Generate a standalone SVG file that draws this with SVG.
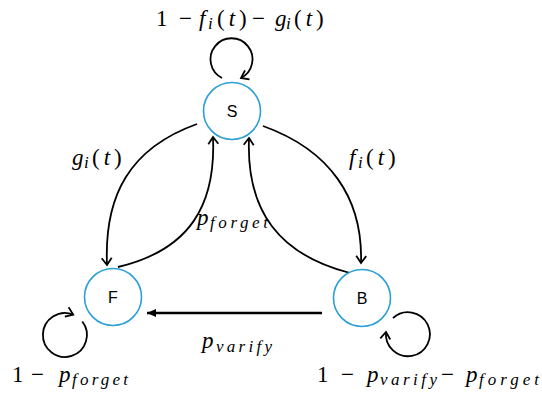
<svg xmlns="http://www.w3.org/2000/svg" width="542" height="395" viewBox="0 0 542 395">
<style>
.node circle{fill:#fff;stroke:#2a9fd6;stroke-width:1.6}
.node text{font-family:"Liberation Sans",Arial,sans-serif;font-size:16px;text-anchor:middle;fill:#000}
.edge{fill:none;stroke:#000;stroke-width:1.8}
.thick{fill:none;stroke:#000;stroke-width:2.6}
.m{font-family:"Liberation Serif","Times New Roman",serif;font-size:23px;fill:#000}
.mi{font-family:"Liberation Serif","Times New Roman",serif;font-size:23px;font-style:italic;fill:#000}
.it{font-style:italic}
.par{letter-spacing:4px}
.sub{font-family:"Liberation Serif","Times New Roman",serif;font-size:17px;font-style:italic;fill:#000}
</style>
<defs>
<marker id="open" markerUnits="userSpaceOnUse" markerWidth="14" markerHeight="14" viewBox="0 0 14 14" refX="11" refY="7" orient="auto">
<path d="M4,2 L11,7 L4,12" fill="none" stroke="#000" stroke-width="1.8"/>
</marker>
<marker id="solid" markerUnits="userSpaceOnUse" markerWidth="14" markerHeight="14" viewBox="0 0 14 14" refX="12" refY="7" orient="auto">
<path d="M3,3 L12,7 L3,11 Z" fill="#000"/>
</marker>
</defs>
<g id="connectors">
<path class="edge" d="M222,78 A21,21 0 1 1 241,78" marker-end="url(#open)"/>
<path class="edge" d="M82.3,321.5 A22,22 0 1 1 73.2,314.6" marker-end="url(#open)"/>
<path class="edge" d="M393,318 A22,22 0 1 1 386,332" marker-end="url(#open)"/>
<path class="edge" d="M197,124 C130,148 104,195 107,265" marker-end="url(#open)"/>
<path class="edge" d="M118,267 C190,250 216,205 213,137" marker-end="url(#open)"/>
<path class="edge" d="M263,126 C330,150 363,198 361,263" marker-end="url(#open)"/>
<path class="edge" d="M350,273 C280,255 246,212 249,138" marker-end="url(#open)"/>
<path class="thick" d="M322,313 L147,313" marker-end="url(#solid)"/>
</g>
<g id="node-S" class="node"><circle cx="232" cy="111" r="28.5"/><text x="232" y="117">S</text></g>
<g id="node-F" class="node"><circle cx="113" cy="297" r="28.5"/><text x="113" y="303">F</text></g>
<g id="node-B" class="node"><circle cx="362" cy="298" r="28.5"/><text x="362" y="304">B</text></g>
<g id="labels">
<g id="label-top">
<text class="m" x="156" y="26">1</text>
<text class="m" x="179" y="26">−</text>
<text class="mi" x="199" y="26">f</text>
<text class="sub" x="208" y="29">i</text>
<text class="m par" x="217" y="26">(<tspan class="it">t</tspan>)</text>
<text class="m" x="252" y="26">−</text>
<text class="mi" x="275" y="26">g</text>
<text class="sub" x="286" y="29">i</text>
<text class="m par" x="294" y="26">(<tspan class="it">t</tspan>)</text>
</g>
<g id="label-g">
<text class="mi" x="72" y="165">g</text>
<text class="sub" x="84" y="168">i</text>
<text class="m par" x="92" y="165">(<tspan class="it">t</tspan>)</text>
</g>
<g id="label-f">
<text class="mi" x="349" y="165">f</text>
<text class="sub" x="358" y="168">i</text>
<text class="m par" x="366" y="165">(<tspan class="it">t</tspan>)</text>
</g>
<g id="label-pforget">
<text class="mi" x="197" y="225">p</text>
<text class="sub" x="210" y="228" textLength="58" lengthAdjust="spacing">forget</text>
</g>
<g id="label-pvarify">
<text class="mi" x="202" y="348">p</text>
<text class="sub" x="216" y="352" textLength="56" lengthAdjust="spacing">varify</text>
</g>
<g id="label-F-self">
<text class="m" x="12" y="382">1</text>
<text class="m" x="31" y="382">−</text>
<text class="mi" x="59" y="382">p</text>
<text class="sub" x="72" y="385" textLength="56" lengthAdjust="spacing">forget</text>
</g>
<g id="label-B-self">
<text class="m" x="317" y="382">1</text>
<text class="m" x="341" y="382">−</text>
<text class="mi" x="367" y="382">p</text>
<text class="sub" x="380" y="385" textLength="57" lengthAdjust="spacing">varify</text>
<text class="m" x="441" y="382">−</text>
<text class="mi" x="466" y="382">p</text>
<text class="sub" x="479" y="385" textLength="60" lengthAdjust="spacing">forget</text>
</g>
</g>
</svg>
